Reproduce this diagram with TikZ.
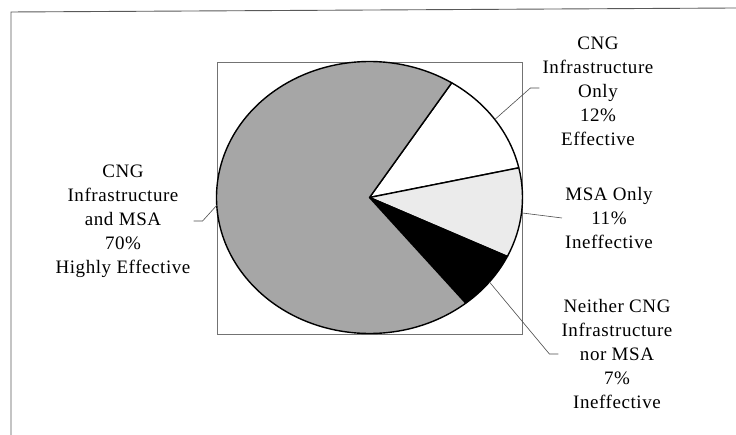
\documentclass[tikz,border=0pt]{standalone}
\usepackage{fontspec}
\setmainfont{Liberation Serif}[LetterSpace=3]
\usetikzlibrary{positioning}

\tikzset{
  slicelabel/.style={align=center, font=\fontsize{19}{24}\selectfont, inner sep=3pt},
  leader/.style={draw=black!70, line width=0.6pt},
  pieline/.style={draw=black, line width=1.4pt, line join=round},
}

\begin{document}
\begin{tikzpicture}[x=1pt, y=1pt]
  \useasboundingbox (0,0) rectangle (736,435);
  % page frame
  \draw[black!65, line width=0.9pt] (11,0) -- (11,423) -- (736,427);
  % plot area
  \draw[black!55, line width=0.9pt] (217,101) rectangle (522,373);
  % pie centre
  \coordinate (c) at (369.5,237.5);
  % slices: start angle / end angle / fill
  \foreach \a/\b/\f in {57.5/12.6/white, 12.6/-25.7/black!8, -25.7/-51/black, -51/-302.5/black!35}
    \filldraw[fill=\f, pieline] (c) -- ++(\a:153pt and 136pt)
      arc[start angle=\a, end angle=\b, x radius=153pt, y radius=136pt] -- cycle;
  % leader start points, mid angle of each slice
  \foreach \n/\t in {eonly/35, emsa/-6.5, eneither/-38.4, eboth/183.3}
    \path (c) ++(\t:153pt and 136pt) coordinate (\n);
  % labels
  \node[slicelabel] (lonly) at (598,344) {CNG\\Infrastructure\\Only\\12\%\\Effective};
  \node[slicelabel] (lmsa) at (609,217) {MSA Only\\11\%\\Ineffective};
  \node[slicelabel] (lneither) at (617,81) {Neither CNG\\Infrastructure\\nor MSA\\7\%\\Ineffective};
  \node[slicelabel] (lboth) at (123,214) {CNG\\Infrastructure\\and MSA\\70\%\\Highly Effective};
  % leader lines
  \draw[leader] (eonly) -- ([shift={(-9pt,3pt)}]lonly.west) -- ([yshift=3pt]lonly.west);
  \draw[leader] (emsa) -- (lmsa.west);
  \draw[leader] (eneither) -- ([xshift=-9pt]lneither.west) -- (lneither.west);
  \draw[leader] (eboth) -- ([xshift=9pt]lboth.east) -- (lboth.east);
\end{tikzpicture}
\end{document}
